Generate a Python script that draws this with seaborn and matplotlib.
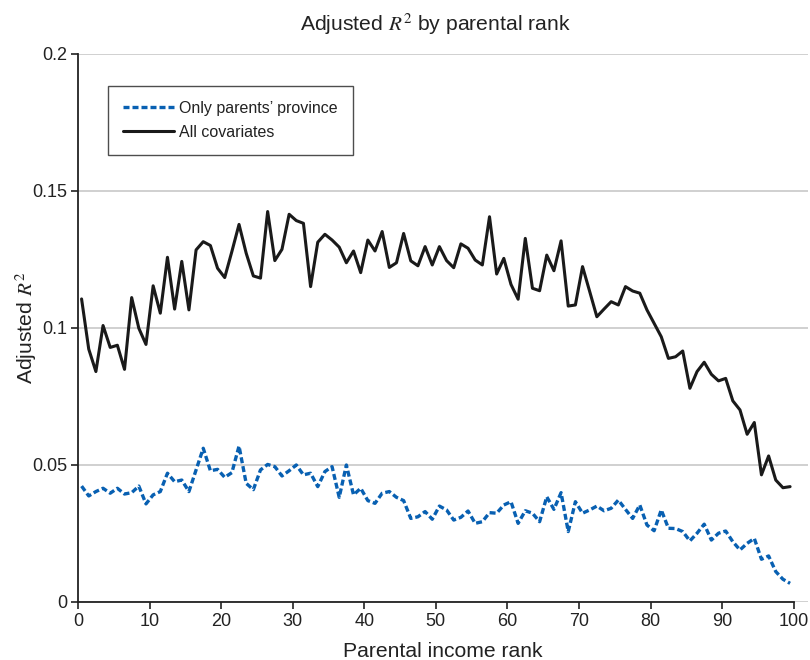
import numpy as np
import pandas as pd
import matplotlib
matplotlib.use("Agg")
import matplotlib.pyplot as plt
import seaborn as sns

# Parental income rank (percentile midpoints)
rank = np.arange(100) + 0.5

# Adjusted R^2 using only the parents' province
r2_province = [
    0.0423, 0.0387, 0.0403, 0.0415, 0.0397, 0.0415, 0.0394, 0.0399, 0.0423, 0.0358,
    0.0391, 0.0403, 0.0470, 0.0439, 0.0445, 0.0403, 0.0482, 0.0561, 0.0479, 0.0484,
    0.0455, 0.0472, 0.0569, 0.0433, 0.0410, 0.0482, 0.0502, 0.0494, 0.0460, 0.0479,
    0.0500, 0.0464, 0.0470, 0.0421, 0.0476, 0.0494, 0.0382, 0.0500, 0.0391, 0.0415,
    0.0370, 0.0360, 0.0397, 0.0403, 0.0382, 0.0370, 0.0305, 0.0311, 0.0330, 0.0302,
    0.0350, 0.0336, 0.0299, 0.0309, 0.0332, 0.0287, 0.0293, 0.0326, 0.0324, 0.0354,
    0.0366, 0.0287, 0.0333, 0.0324, 0.0293, 0.0384, 0.0338, 0.0399, 0.0257, 0.0366,
    0.0324, 0.0336, 0.0350, 0.0333, 0.0342, 0.0372, 0.0338, 0.0305, 0.0354, 0.0281,
    0.0260, 0.0336, 0.0269, 0.0268, 0.0257, 0.0223, 0.0251, 0.0284, 0.0226, 0.0251,
    0.0259, 0.0220, 0.0190, 0.0214, 0.0232, 0.0156, 0.0168, 0.0111, 0.0083, 0.0068,
]

# Adjusted R^2 using all covariates
r2_all = [
    0.1106, 0.0923, 0.0841, 0.1009, 0.0929, 0.0937, 0.0849, 0.1111, 0.0999, 0.0940,
    0.1154, 0.1054, 0.1258, 0.1069, 0.1243, 0.1066, 0.1285, 0.1315, 0.1301, 0.1218,
    0.1184, 0.1279, 0.1378, 0.1273, 0.1190, 0.1182, 0.1425, 0.1246, 0.1287, 0.1415,
    0.1392, 0.1382, 0.1151, 0.1313, 0.1342, 0.1321, 0.1295, 0.1238, 0.1281, 0.1202,
    0.1321, 0.1281, 0.1352, 0.1221, 0.1238, 0.1345, 0.1245, 0.1227, 0.1297, 0.1230,
    0.1297, 0.1246, 0.1220, 0.1307, 0.1291, 0.1248, 0.1230, 0.1406, 0.1197, 0.1254,
    0.1159, 0.1105, 0.1327, 0.1145, 0.1136, 0.1266, 0.1209, 0.1318, 0.1080, 0.1084,
    0.1224, 0.1133, 0.1041, 0.1069, 0.1096, 0.1084, 0.1151, 0.1135, 0.1127, 0.1066,
    0.1017, 0.0968, 0.0889, 0.0895, 0.0916, 0.0780, 0.0841, 0.0875, 0.0831, 0.0807,
    0.0816, 0.0734, 0.0701, 0.0612, 0.0655, 0.0464, 0.0533, 0.0445, 0.0417, 0.0421,
]

x_ticks = [0, 10, 20, 30, 40, 50, 60, 70, 80, 90, 100]
y_ticks = [0, 0.05, 0.1, 0.15, 0.2]
y_tick_labels = ["0", "0.05", "0.1", "0.15", "0.2"]

sns.set_theme(style="white")
plt.rcParams["font.family"] = ["Liberation Sans", "DejaVu Sans"]
plt.rcParams["mathtext.fontset"] = "stix"

fig = plt.figure(figsize=(8.1, 6.6), dpi=100)
ax = fig.add_axes([0.0963, 0.0879, 0.9012, 0.8303])

df_prov = pd.DataFrame({"rank": rank, "r2": r2_province})
df_all = pd.DataFrame({"rank": rank, "r2": r2_all})

sns.lineplot(data=df_prov, x="rank", y="r2", ax=ax, color="#0860b2",
             linewidth=2.4, linestyle=(0, (1.8, 0.9)),
             label="Only parents\u2019 province")
sns.lineplot(data=df_all, x="rank", y="r2", ax=ax, color="#1a1a1a",
             linewidth=2.2, label="All covariates")

ax.set_xlim(0, 102)
ax.set_ylim(0, 0.2)
ax.set_xticks(x_ticks)
ax.set_yticks(y_ticks)
ax.set_yticklabels(y_tick_labels)

ax.yaxis.grid(True, color="#c8c8c8", linewidth=1.2)
ax.xaxis.grid(False)
ax.set_axisbelow(True)

for side in ["top", "right"]:
    ax.spines[side].set_visible(False)
for side in ["left", "bottom"]:
    ax.spines[side].set_color("#222222")
    ax.spines[side].set_linewidth(1.3)
ax.spines["bottom"].set_bounds(0, 100)

ax.tick_params(axis="both", which="major", direction="out", length=5,
               width=1.2, color="#222222", labelsize=13,
               labelcolor="#222222", bottom=True, left=True, pad=3)

ax.set_xlabel("Parental income rank", fontsize=15.2, color="#222222")
ax.set_ylabel("Adjusted $R^2$", fontsize=15.2, color="#222222")
ax.xaxis.set_label_coords(0.5, -0.073)
ax.yaxis.set_label_coords(-0.054, 0.5)
ax.set_title("Adjusted $R^2$ by parental rank", fontsize=15.2, color="#222222",
             pad=17, x=0.49)

leg = ax.legend(loc="upper left", bbox_to_anchor=(0.041, 0.942),
                frameon=True, fancybox=False, fontsize=11.5,
                handlelength=3.2, handletextpad=0.3, borderpad=0.95,
                labelspacing=0.55, borderaxespad=0)
leg.get_frame().set_edgecolor("#222222")
leg.get_frame().set_linewidth(1.0)
for t in leg.get_texts():
    t.set_color("#222222")

fig.savefig("out.png", dpi=100)
